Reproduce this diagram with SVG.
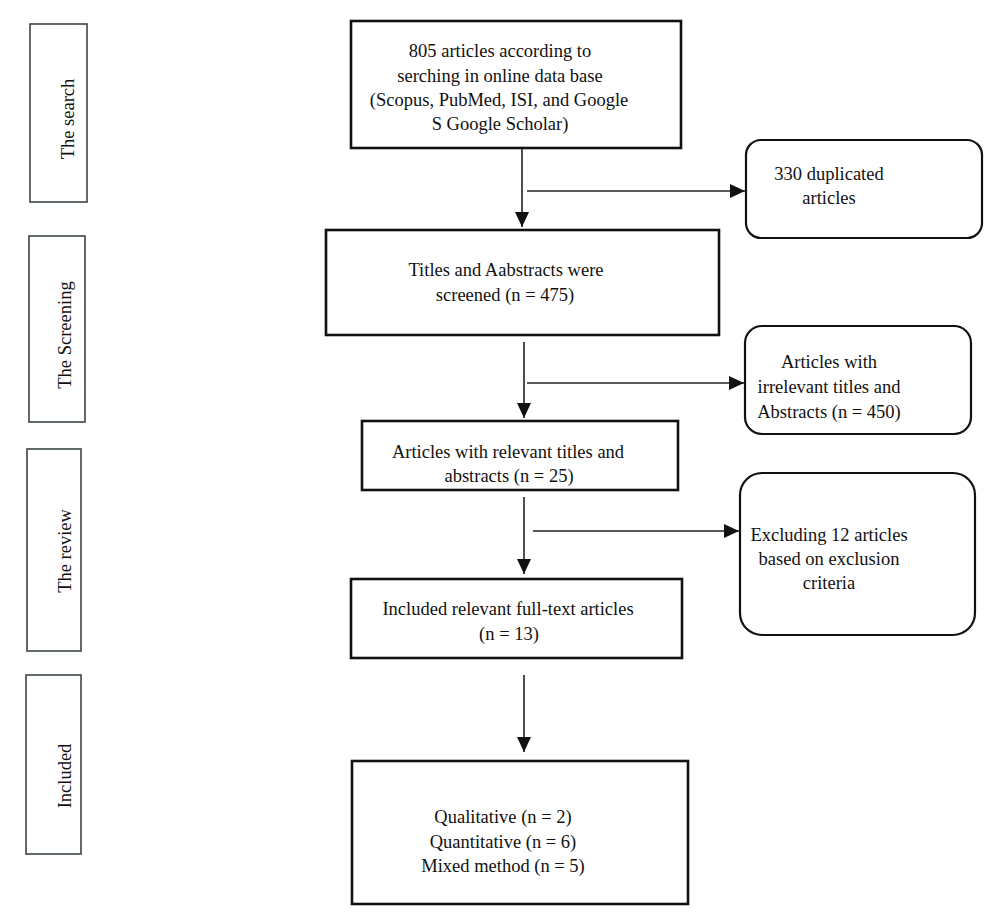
<svg xmlns="http://www.w3.org/2000/svg" width="1000" height="924" viewBox="0 0 1000 924">
<defs>
<style>
text{font-family:"Liberation Serif","DejaVu Serif",serif;font-size:18.5px;fill:#111;}
.c{text-anchor:middle;}
.phase{fill:#fff;stroke:#3c4548;stroke-width:1.6;}
.box{fill:#fff;stroke:#111;stroke-width:2.6;}
.rbox{fill:#fff;stroke:#111;stroke-width:2.2;}
.conn{fill:none;stroke:#222;stroke-width:1.6;}
</style>
<marker id="arr" markerUnits="userSpaceOnUse" markerWidth="15" markerHeight="14" refX="15" refY="7" orient="auto">
<path d="M0,0 L15,7 L0,14 z" fill="#111"/>
</marker>
</defs>
<rect width="1000" height="924" fill="#fff"/>

<g id="phase-search">
<rect class="phase" x="30" y="24" width="57" height="178"/>
<text class="c" transform="translate(74,119) rotate(-90)">The search</text>
</g>
<g id="phase-screening">
<rect class="phase" x="29" y="236" width="56" height="186"/>
<text class="c" transform="translate(71,335) rotate(-90)">The Screening</text>
</g>
<g id="phase-review">
<rect class="phase" x="27" y="449" width="54" height="202"/>
<text class="c" transform="translate(71,551) rotate(-90)">The review</text>
</g>
<g id="phase-included">
<rect class="phase" x="26" y="675" width="55" height="179"/>
<text class="c" transform="translate(71,776) rotate(-90)">Included</text>
</g>

<g id="connectors">
<path class="conn" d="M522,148 L522,227" marker-end="url(#arr)"/>
<path class="conn" d="M527,191 L745,191" marker-end="url(#arr)"/>
<path class="conn" d="M524,342 L524,418" marker-end="url(#arr)"/>
<path class="conn" d="M527,383 L744,383" marker-end="url(#arr)"/>
<path class="conn" d="M524,497 L524,574" marker-end="url(#arr)"/>
<path class="conn" d="M533,531 L739,531" marker-end="url(#arr)"/>
<path class="conn" d="M524,675 L524,752" marker-end="url(#arr)"/>
</g>

<g id="node-search">
<rect class="box" x="351" y="21" width="330" height="127"/>
<text class="c" x="500" y="57">805 articles according to</text>
<text class="c" x="500" y="82">serching in online data base</text>
<text class="c" x="499" y="106">(Scopus, PubMed, ISI, and Google</text>
<text class="c" x="500" y="130">S Google Scholar)</text>
</g>

<g id="node-duplicated">
<rect class="rbox" x="746" y="140" width="236" height="98" rx="15"/>
<text class="c" x="829" y="180">330 duplicated</text>
<text class="c" x="829" y="204">articles</text>
</g>

<g id="node-screened">
<rect class="box" x="326" y="230" width="393" height="105"/>
<text class="c" x="506" y="276">Titles and Aabstracts were</text>
<text class="c" x="505" y="301">screened (n = 475)</text>
</g>

<g id="node-irrelevant">
<rect class="rbox" x="745" y="326" width="226" height="108" rx="17"/>
<text class="c" x="829" y="368">Articles with</text>
<text class="c" x="829" y="393">irrelevant titles and</text>
<text class="c" x="829" y="418">Abstracts (n = 450)</text>
</g>

<g id="node-relevant">
<rect class="box" x="362" y="421" width="316" height="69"/>
<text class="c" x="508" y="458">Articles with relevant titles and</text>
<text class="c" x="509" y="482">abstracts (n = 25)</text>
</g>

<g id="node-excluded">
<rect class="rbox" x="740" y="473" width="235" height="162" rx="22"/>
<text class="c" x="829" y="541">Excluding 12 articles</text>
<text class="c" x="829" y="565">based on exclusion</text>
<text class="c" x="829" y="589">criteria</text>
</g>

<g id="node-fulltext">
<rect class="box" x="351" y="579" width="331" height="79"/>
<text class="c" x="508" y="615">Included relevant full-text articles</text>
<text class="c" x="509" y="640">(n = 13)</text>
</g>

<g id="node-included">
<rect class="box" x="352" y="761" width="336" height="143"/>
<text class="c" x="503" y="823">Qualitative (n = 2)</text>
<text class="c" x="503" y="848">Quantitative (n = 6)</text>
<text class="c" x="503" y="872">Mixed method (n = 5)</text>
</g>
</svg>
